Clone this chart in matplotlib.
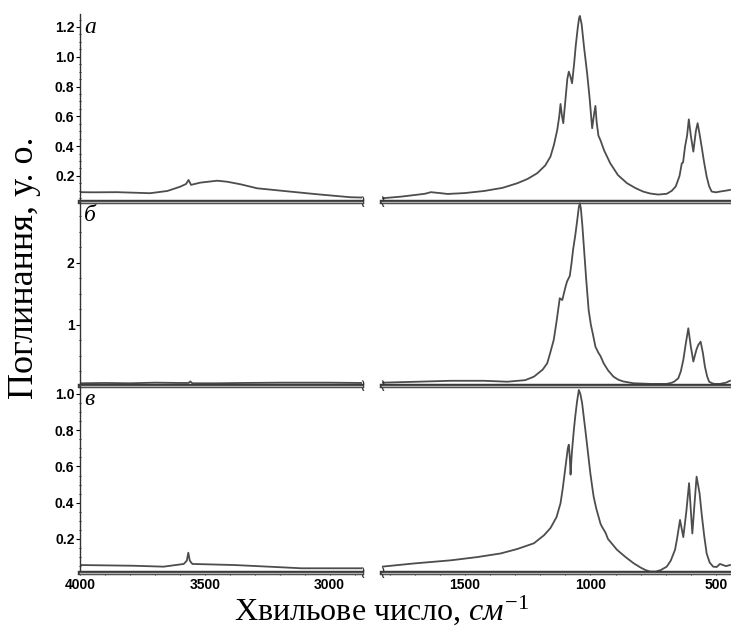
import matplotlib.pyplot as plt
from matplotlib.ticker import MultipleLocator, AutoMinorLocator, FixedLocator

plt.rcParams['mathtext.fontset'] = 'custom'
plt.rcParams['mathtext.it'] = 'Liberation Serif:italic'
plt.rcParams['mathtext.rm'] = 'Liberation Serif'

# --- data (wavenumber, cm-1 / absorbance) ---
a_left_w = [4000, 3950, 3851, 3719, 3650, 3598, 3575, 3565, 3555, 3518, 3450, 3410,
            3357, 3290, 3183, 3050, 2916, 2870]
a_left_y = [0.091, 0.090, 0.091, 0.084, 0.099, 0.128, 0.146, 0.173, 0.140, 0.155, 0.168,
            0.161, 0.144, 0.117, 0.099, 0.077, 0.057, 0.055]
a_right_w = [1830, 1754, 1660, 1635, 1600, 1569, 1500, 1423, 1350, 1291, 1250, 1212, 1180,
             1159, 1145, 1132, 1124, 1119, 1113, 1108, 1100, 1092, 1086, 1080, 1073, 1065,
             1058, 1050, 1045, 1042, 1035, 1025, 1013, 1003, 993, 985, 980, 975, 968, 960,
             945, 921, 890, 854, 820, 790, 762, 730, 696, 676, 660, 645, 636, 631, 623, 615,
             608, 600, 590, 580, 573, 565, 557, 547, 537, 527, 517, 500, 484, 465, 444]
a_right_y = [0.050, 0.061, 0.080, 0.091, 0.085, 0.079, 0.085, 0.099, 0.120, 0.151, 0.180,
             0.218, 0.270, 0.330, 0.410, 0.509, 0.600, 0.683, 0.600, 0.554, 0.700, 0.850,
             0.900, 0.870, 0.822, 0.950, 1.080, 1.200, 1.260, 1.274, 1.220, 1.060, 0.889,
             0.720, 0.520, 0.620, 0.670, 0.560, 0.470, 0.440, 0.370, 0.285, 0.205, 0.151,
             0.118, 0.095, 0.082, 0.075, 0.080, 0.100, 0.130, 0.200, 0.285, 0.290, 0.397,
             0.470, 0.580, 0.470, 0.363, 0.500, 0.554, 0.480, 0.397, 0.290, 0.196, 0.130,
             0.095, 0.090, 0.095, 0.100, 0.106]

b_left_w = [4000, 3900, 3800, 3700, 3600, 3565, 3558, 3550, 3450, 3350, 3200, 3000, 2870]
b_left_y = [0.060, 0.065, 0.060, 0.070, 0.065, 0.065, 0.090, 0.060, 0.060, 0.065, 0.070,
            0.070, 0.065]
b_right_w = [1830, 1688, 1556, 1423, 1331, 1260, 1225, 1190, 1172, 1160, 1146, 1135, 1122,
             1112, 1100, 1093, 1082, 1075, 1069, 1060, 1052, 1046, 1042, 1038, 1032, 1026,
             1017, 1007, 998, 990, 980, 968, 960, 947, 930, 908, 890, 870, 828, 760, 696,
             675, 665, 650, 640, 630, 620, 610, 600, 590, 583, 577, 570, 561, 552, 544, 535,
             527, 515, 505, 484, 460, 444]
b_right_y = [0.070, 0.085, 0.100, 0.100, 0.085, 0.110, 0.166, 0.280, 0.382, 0.550, 0.758,
             1.050, 1.430, 1.400, 1.600, 1.700, 1.790, 2.000, 2.210, 2.450, 2.700, 2.900,
             2.960, 2.880, 2.600, 2.260, 1.750, 1.240, 1.000, 0.850, 0.650, 0.550, 0.500,
             0.380, 0.270, 0.166, 0.120, 0.090, 0.060, 0.050, 0.050, 0.070, 0.090, 0.140,
             0.250, 0.435, 0.700, 0.946, 0.650, 0.410, 0.520, 0.610, 0.680, 0.730, 0.550,
             0.330, 0.170, 0.085, 0.060, 0.050, 0.050, 0.070, 0.100]

c_left_w = [4000, 3785, 3665, 3584, 3572, 3566, 3560, 3550, 3382, 3245, 3112, 2866]
c_left_y = [0.056, 0.052, 0.047, 0.062, 0.080, 0.124, 0.080, 0.062, 0.056, 0.047, 0.038,
            0.038]
c_right_w = [1830, 1700, 1556, 1450, 1357, 1290, 1225, 1185, 1159, 1135, 1119, 1110, 1099,
             1090, 1086, 1082, 1079, 1075, 1073, 1066, 1060, 1053, 1046, 1040, 1033, 1027,
             1020, 1010, 1000, 993, 987, 977, 967, 963, 960, 955, 940, 930, 894, 860, 828,
             800, 780, 762, 740, 720, 696, 680, 663, 655, 643, 630, 618, 607, 594, 585, 577,
             565, 557, 547, 537, 525, 511, 497, 484, 460, 444]
c_right_y = [0.047, 0.065, 0.082, 0.100, 0.120, 0.145, 0.176, 0.220, 0.260, 0.320, 0.397,
             0.480, 0.600, 0.700, 0.720, 0.650, 0.555, 0.650, 0.690, 0.800, 0.880, 0.960,
             1.022, 1.000, 0.950, 0.880, 0.800, 0.680, 0.560, 0.490, 0.433, 0.370, 0.320,
             0.300, 0.285, 0.270, 0.235, 0.200, 0.140, 0.100, 0.066, 0.042, 0.028, 0.020,
             0.020, 0.028, 0.047, 0.080, 0.140, 0.200, 0.305, 0.210, 0.350, 0.508, 0.230,
             0.400, 0.544, 0.450, 0.340, 0.220, 0.120, 0.070, 0.047, 0.045, 0.062, 0.050,
             0.056]

panels = [
    ('а', a_left_w, a_left_y, a_right_w, a_right_y, (0.025, 1.287), [0.2, 0.4, 0.6, 0.8, 1.0, 1.2], '%.1f'),
    ('б', b_left_w, b_left_y, b_right_w, b_right_y, (0.016, 2.98), [1, 2], '%d'),
    ('в', c_left_w, c_left_y, c_right_w, c_right_y, (0.012, 1.044), [0.2, 0.4, 0.6, 0.8, 1.0], '%.1f'),
]

W, H = 731, 630
fig = plt.figure(figsize=(W / 100, H / 100), dpi=100)

# panel edges in pixels from the top
edges = [(14, 202), (202, 386), (386, 573)]
xl0, xl1 = 80, 362
xr0, xr1 = 382, 731

line_kw = dict(color='#4d4d4d', lw=1.3)
serif = 'Liberation Serif'

for i, (letter, lw_, ly, rw, ry, ylim, yt, fmt) in enumerate(panels):
    top, bot = edges[i]
    y0 = 1 - bot / H
    h = (bot - top) / H
    axl = fig.add_axes([xl0 / W, y0, (xl1 - xl0) / W, h])
    axr = fig.add_axes([xr0 / W, y0, (xr1 - xr0) / W, h], sharey=axl)

    axl.plot(lw_, ly, **line_kw)
    axr.plot(rw, ry, **line_kw)
    axl.set_xlim(4000, 2870)
    axr.set_xlim(1830, 440)
    axl.set_ylim(*ylim)

    for ax in (axl, axr):
        ax.patch.set_alpha(0)
        ax.spines['top'].set_visible(False)
        ax.spines['right'].set_visible(False)
        ax.spines['bottom'].set_linewidth(3.2)
        ax.spines['bottom'].set_color('#3a3a3a')
        ax.axhline(ylim[0], color='#b0b0b0', lw=1.0, zorder=5, clip_on=False)
        ax.xaxis.set_major_locator(MultipleLocator(500))
        ax.xaxis.set_minor_locator(MultipleLocator(100))
        ax.tick_params(axis='x', which='both', direction='inout', length=3, width=0.8,
                       color='#333333', labelsize=10, pad=2)
        if i < 2:
            ax.tick_params(axis='x', which='both', labelbottom=False, length=0)
        else:
            for t in ax.get_xticklabels():
                t.set_fontweight('bold')
                t.set_family('Liberation Sans')
    axr.spines['left'].set_visible(False)
    axr.tick_params(axis='y', which='both', left=False, labelleft=False)

    axl.spines['left'].set_linewidth(1.0)
    axl.spines['left'].set_color('#333333')
    axl.yaxis.set_major_locator(FixedLocator(yt))
    axl.yaxis.set_minor_locator(AutoMinorLocator(4))
    axl.set_yticklabels([fmt % v for v in yt], fontsize=10, fontweight='bold',
                        family='Liberation Sans')
    axl.tick_params(axis='y', which='major', direction='out', length=3, width=0.8, pad=1)
    axl.tick_params(axis='y', which='minor', direction='inout', length=2, width=0.6)

    # break marks on the axis line
    axl.text(1.0, 0.0, '≀', transform=axl.transAxes, ha='center', va='center',
             fontsize=12, color='#333333', family='DejaVu Sans')
    axr.text(0.0, 0.0, '≀', transform=axr.transAxes, ha='center', va='center',
             fontsize=12, color='#333333', family='DejaVu Sans')

    axl.text(0.015, 0.985, letter, transform=axl.transAxes, ha='left', va='top',
             fontsize=17, style='italic', family=serif)

fig.text(25 / W, 1 - 268 / H, 'Поглинання, у. о.', rotation=90, ha='center', va='center',
         fontsize=26, family=serif)
fig.text(381 / W, 1 - 610 / H, 'Хвильове число, $\\mathit{см}^{\\mathit{-1}}$',
         ha='center', va='center', fontsize=23, family=serif)

fig.savefig('out.png', dpi=100)
